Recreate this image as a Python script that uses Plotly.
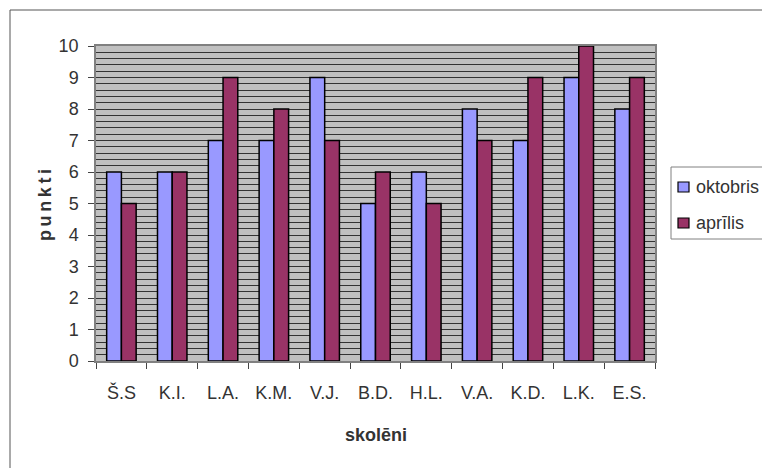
import plotly.graph_objects as go

categories = ["Š.S", "K.I.", "L.A.", "K.M.", "V.J.", "B.D.", "H.L.", "V.A.", "K.D.", "L.K.", "E.S."]
oktobris = [6, 6, 7, 7, 9, 5, 6, 8, 7, 9, 8]
aprilis = [5, 6, 9, 8, 7, 6, 5, 7, 9, 10, 9]
series_names = ["oktobris", "aprīlis"]
series_colors = ["#9999FF", "#993366"]

FONT = "Liberation Sans, Arial, sans-serif"
W, H = 762, 468
L, R, T, B = 96, 655, 46, 361

fig = go.Figure()
for name, vals, col in zip(series_names, [oktobris, aprilis], series_colors):
    fig.add_trace(go.Bar(x=categories, y=vals, name=name,
                         marker=dict(color=col, line=dict(color="#000000", width=1.5))))

pw, ph = R - L, B - T
def px2x(p):
    return (p - L) / pw
def py2y(p):
    return (B - p) / ph

shapes = [
    dict(type="rect", xref="paper", yref="paper", x0=px2x(10), y0=py2y(490),
         x1=px2x(790), y1=py2y(10), line=dict(color="#555555", width=1), layer="below"),
    # legend box
    dict(type="rect", xref="paper", yref="paper", x0=px2x(671), y0=py2y(239),
         x1=px2x(790), y1=py2y(167), line=dict(color="#808080", width=1), fillcolor="white"),
]
annotations = [
    dict(text="<b>skolēni</b>", x=0.5, y=py2y(435), xref="paper", yref="paper",
         xanchor="center", yanchor="middle",
         showarrow=False, font=dict(family=FONT, size=18, color="#333333")),
    dict(text="<b>p\u2009u\u2009n\u2009k\u2009t\u2009i</b>", x=px2x(45), y=py2y(205),
         xref="paper", yref="paper", textangle=-90, showarrow=False,
         xanchor="center", yanchor="middle",
         font=dict(family=FONT, size=18, color="#333333")),
]
leg_y = [187, 223]
for name, col, cy in zip(series_names, series_colors, leg_y):
    shapes.append(dict(type="rect", xref="paper", yref="paper",
                       x0=px2x(678), x1=px2x(689), y0=py2y(cy + 5), y1=py2y(cy - 5),
                       fillcolor=col, line=dict(color="#000000", width=1.2)))
    annotations.append(dict(text=name, x=px2x(694), y=py2y(cy), xref="paper", yref="paper",
                            xanchor="left", yanchor="middle", showarrow=False,
                            font=dict(family=FONT, size=18, color="#333333")))

fig.update_layout(
    width=W, height=H,
    margin=dict(l=L, r=W - R, t=T, b=H - B, pad=0, autoexpand=False),
    paper_bgcolor="white",
    plot_bgcolor="#C0C0C0",
    barmode="group",
    bargap=0.42,
    bargroupgap=0,
    font=dict(family=FONT, size=18, color="#333333"),
    showlegend=False,
    xaxis=dict(
        showgrid=False, ticks="outside", ticklen=6, tickcolor="#444444",
        tickson="boundaries", showline=True, linecolor="#808080", linewidth=1.5,
        mirror=True, ticklabelstandoff=15,
        tickfont=dict(family=FONT, size=18, color="#333333"),
    ),
    yaxis=dict(
        range=[0, 10], dtick=1, tick0=0, showgrid=True, gridcolor="#333333", gridwidth=1,
        minor=dict(dtick=0.2, showgrid=True, gridcolor="#333333", gridwidth=1),
        ticks="outside", ticklen=6, tickcolor="#444444",
        showline=True, linecolor="#808080", linewidth=1.5, mirror=True,
        zeroline=False, ticklabelstandoff=6,
        tickfont=dict(family=FONT, size=18, color="#333333"),
    ),
    annotations=annotations,
    shapes=shapes,
)

fig.write_html("out.html", config={"displayModeBar": False},
               post_script="document.body.style.margin='0';document.body.style.padding='0';")
